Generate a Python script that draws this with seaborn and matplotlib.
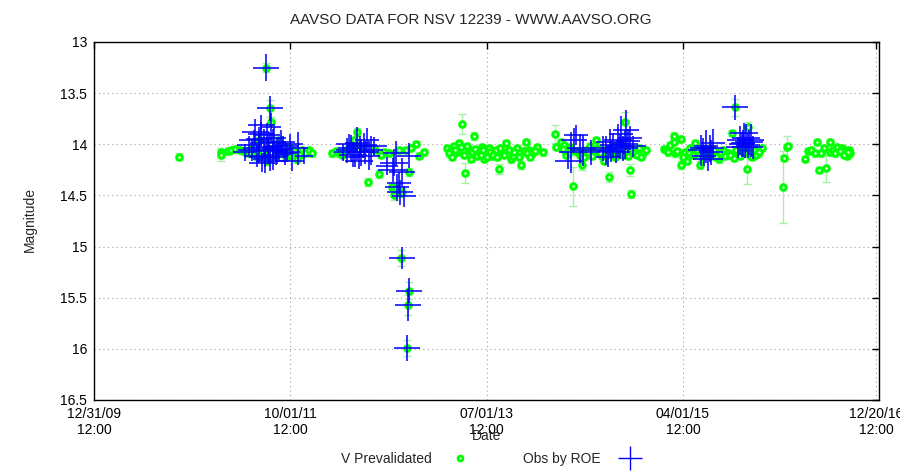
import numpy as np
import seaborn as sns
import matplotlib
matplotlib.use("Agg")
import matplotlib.pyplot as plt
import matplotlib.dates as mdates
import pandas as pd
from matplotlib.lines import Line2D

# V prevalidated observations: JD-2450000, magnitude, error
v_jd = [5472.7, 5608.9, 5611.2, 5631.7, 5643.7, 5654.4, 5670.6, 5683.6, 5696.5, 5719.2,
        5735.5, 5741.9, 5757.2, 5761.4, 5771.1, 5774.4, 5784.1, 5800.3, 5816.5, 5832.8,
        5839.3, 5858.7, 5874.9, 5884.7, 5897.6, 5907.4, 5972.2, 5994.9, 6017.7, 6043.6,
        6053.3, 6089.0, 6124.7, 6140.9, 6157.1, 6166.9, 6173.4, 6189.6, 6195.1, 6196.1,
        6199.3, 6212.3, 6214.6, 6219.7, 6222.0, 6223.0, 6228.5, 6244.7, 6254.4, 6270.7,
        6179.8,
        6345.3, 6358.2, 6368.0, 6377.7, 6384.2, 6390.7, 6394.9, 6403.7, 6416.6, 6423.1,
        6432.9, 6442.6, 6449.1, 6458.8, 6465.3, 6471.8, 6481.5, 6491.2, 6504.2, 6513.9,
        6526.9, 6536.6, 6546.4, 6552.9, 6559.4, 6572.3, 6585.3, 6595.0, 6601.5, 6611.3,
        6624.2, 6640.4, 6659.9, 6698.8, 6702.1,
        6718.3, 6728.0, 6737.8, 6747.5, 6757.2, 6773.4, 6786.4, 6799.4, 6812.4, 6825.3,
        6831.8, 6838.3, 6851.3, 6857.8, 6864.3, 6874.0, 6887.0, 6899.9, 6912.9, 6925.9,
        6935.6, 6942.1, 6945.4, 6958.3, 6971.3, 6984.3, 6994.0,
        7052.4, 7058.9, 7071.9, 7084.8, 7086.0, 7088.1, 7107.5, 7109.0, 7120.5, 7127.0,
        7136.7, 7152.9, 7169.2, 7185.4, 7201.6, 7214.6, 7230.8, 7243.8, 7260.0, 7273.0,
        7279.5, 7282.7, 7292.4, 7305.4, 7321.6, 7324.9, 7334.6, 7347.6, 7357.3, 7370.3,
        7438.4, 7441.6, 7451.4, 7454.6, 7509.8, 7519.5, 7529.2, 7542.2, 7548.7, 7555.2,
        7561.7, 7574.6, 7577.9, 7590.9, 7594.1, 7603.8, 7616.8, 7633.0, 7642.8, 7646.0,
        7649.3, 7655.7, 7659.0,
        5700.0, 5712.0, 5726.0, 5748.0, 5764.0, 5788.0, 5797.0, 5821.0, 5850.0, 5868.0,
        5985.0, 6003.0, 6027.0, 6070.0, 6110.0, 6130.0,
        6352.0, 6362.0, 6372.0, 6400.0, 6410.0, 6428.0, 6438.0, 6455.0, 6462.0, 6477.0,
        6486.0, 6497.0, 6508.0, 6520.0, 6532.0, 6565.0, 6580.0, 6605.0, 6617.0, 6632.0,
        6722.0, 6733.0, 6743.0, 6765.0, 6780.0, 6793.0, 6805.0, 6818.0, 6845.0, 6868.0,
        6880.0, 6893.0, 6906.0, 6918.0, 6930.0, 6950.0, 6965.0, 6978.0,
        7065.0, 7095.0, 7115.0, 7132.0, 7145.0, 7160.0, 7177.0, 7193.0, 7208.0, 7222.0,
        7236.0, 7250.0, 7266.0, 7287.0, 7300.0, 7312.0, 7330.0, 7340.0, 7352.0, 7362.0,
        7610.0, 7625.0, 7638.0, 7652.0]
v_mag = [14.12, 14.08, 14.10, 14.07, 14.06, 14.05, 14.06, 14.07, 14.08, 14.06,
         13.96, 14.11, 13.25, 14.16, 13.65, 13.78, 14.04, 13.96, 14.08, 14.03,
         14.11, 14.14, 14.06, 14.09, 14.06, 14.09, 14.09, 14.09, 14.06, 13.96,
         13.88, 14.37, 14.29, 14.08, 14.09, 14.42, 14.50, 14.06, 14.48, 15.11,
         14.47, 14.06, 15.99, 15.57, 14.27, 15.43, 14.04, 14.00, 14.11, 14.08,
         14.43,
         14.04, 14.06, 14.02, 14.08, 13.99, 14.03, 13.80, 14.28, 14.06, 14.14,
         13.92, 14.11, 14.06, 14.03, 14.14, 14.09, 14.04, 14.11, 14.06, 14.24,
         14.08, 13.99, 14.06, 14.14, 14.11, 14.04, 14.20, 14.07, 13.98, 14.06,
         14.09, 14.03, 14.08, 13.90, 14.03,
         13.98, 14.01, 14.06, 14.03, 14.41, 14.08, 14.20, 14.06, 14.02, 14.08,
         13.96, 14.04, 14.11, 14.16, 14.06, 14.32, 14.03, 14.08, 14.01, 13.78,
         14.11, 14.25, 14.49, 14.06, 14.04, 14.09, 14.06,
         14.05, 14.06, 14.01, 13.92, 13.98, 14.09, 13.95, 14.20, 14.08, 14.16,
         14.04, 13.99, 14.20, 14.08, 14.11, 14.06, 14.14, 14.06, 14.09, 13.89,
         14.13, 13.64, 14.08, 14.04, 14.24, 13.83, 14.11, 14.06, 14.09, 14.04,
         14.42, 14.13, 14.03, 14.02, 14.14, 14.07, 14.06, 14.09, 13.98, 14.25,
         14.09, 14.04, 14.23, 14.08, 13.98, 14.06, 14.03, 14.04, 14.06, 14.08,
         14.11, 14.06, 14.09,
         14.09, 14.04, 14.12, 14.08, 14.05, 14.10, 14.02, 14.12, 14.07, 14.10,
         14.07, 14.10, 14.05, 14.04, 14.06, 14.10,
         14.09, 14.12, 14.06, 14.10, 14.02, 14.08, 14.05, 14.10, 14.06, 14.12,
         14.08, 14.10, 14.12, 14.04, 14.10, 14.08, 14.12, 14.09, 14.12, 14.07,
         14.05, 14.10, 14.08, 14.07, 14.10, 14.12, 14.08, 14.11, 14.09, 14.10,
         14.08, 14.12, 14.06, 14.10, 14.07, 14.09, 14.10, 14.12,
         14.08, 14.07, 14.12, 14.09, 14.10, 14.06, 14.12, 14.05, 14.10, 14.12,
         14.08, 14.11, 14.10, 14.06, 14.11, 14.09, 14.08, 14.12, 14.10, 14.08,
         14.09, 14.07, 14.10, 14.08]
v_err = [0.03, 0.04, 0.06, 0.03, 0.03, 0.03, 0.03, 0.03, 0.03, 0.03,
         0.03, 0.03, 0.04, 0.04, 0.08, 0.05, 0.03, 0.04, 0.03, 0.03,
         0.03, 0.04, 0.03, 0.03, 0.03, 0.03, 0.03, 0.03, 0.03, 0.03,
         0.04, 0.04, 0.04, 0.03, 0.03, 0.03, 0.04, 0.03, 0.03, 0.08,
         0.04, 0.03, 0.08, 0.10, 0.04, 0.08, 0.03, 0.03, 0.03, 0.03,
         0.04,
         0.03, 0.03, 0.03, 0.03, 0.03, 0.03, 0.10, 0.10, 0.03, 0.03,
         0.04, 0.03, 0.03, 0.03, 0.03, 0.03, 0.03, 0.03, 0.03, 0.05,
         0.03, 0.03, 0.03, 0.04, 0.03, 0.03, 0.04, 0.03, 0.03, 0.03,
         0.03, 0.03, 0.03, 0.09, 0.03,
         0.03, 0.03, 0.03, 0.03, 0.19, 0.03, 0.05, 0.03, 0.03, 0.03,
         0.03, 0.03, 0.03, 0.03, 0.03, 0.05, 0.03, 0.03, 0.03, 0.10,
         0.03, 0.06, 0.04, 0.03, 0.03, 0.03, 0.03,
         0.03, 0.03, 0.03, 0.04, 0.03, 0.03, 0.03, 0.04, 0.03, 0.03,
         0.03, 0.03, 0.04, 0.03, 0.03, 0.03, 0.04, 0.03, 0.03, 0.03,
         0.03, 0.08, 0.03, 0.03, 0.15, 0.05, 0.03, 0.03, 0.03, 0.03,
         0.35, 0.03, 0.11, 0.03, 0.03, 0.03, 0.03, 0.03, 0.03, 0.03,
         0.03, 0.03, 0.14, 0.03, 0.03, 0.03, 0.03, 0.03, 0.03, 0.03,
         0.03, 0.03, 0.03,
         0.03, 0.03, 0.03, 0.03, 0.03, 0.03, 0.03, 0.03, 0.03, 0.03,
         0.03, 0.03, 0.03, 0.03, 0.03, 0.03,
         0.03, 0.03, 0.03, 0.03, 0.03, 0.03, 0.03, 0.03, 0.03, 0.03,
         0.03, 0.03, 0.03, 0.03, 0.03, 0.03, 0.03, 0.03, 0.03, 0.03,
         0.03, 0.03, 0.03, 0.03, 0.03, 0.03, 0.03, 0.03, 0.03, 0.03,
         0.03, 0.03, 0.03, 0.03, 0.03, 0.03, 0.03, 0.03,
         0.03, 0.03, 0.03, 0.03, 0.03, 0.03, 0.03, 0.03, 0.03, 0.03,
         0.03, 0.03, 0.03, 0.03, 0.03, 0.03, 0.03, 0.03, 0.03, 0.03,
         0.03, 0.03, 0.03, 0.03]

# observations by ROE: JD-2450000, magnitude, time error (days), magnitude error
r_jd = [5757.2, 5771.1, 5741.9, 5761.4, 5719.2, 5784.1, 5806.8, 5703.0, 5735.5, 5767.9,
        5793.8, 5826.3, 5729.0, 5754.9, 5780.9, 5687.0, 5842.5, 5745.0, 5813.3, 5862.0,
        5881.4, 5722.5, 5774.4,
        5710.0, 5733.0, 5750.0, 5764.0, 5778.0, 5790.0, 5800.0, 5818.0, 5835.0, 5752.0,
        5770.0, 5740.0,
        6020.9, 6033.9, 6053.3, 6066.3, 6076.0, 6085.8, 6098.7, 6046.8, 6007.9, 6108.5,
        6059.8, 6092.3, 6040.0, 6062.0, 6080.0, 6028.0,
        6179.8, 6173.4, 6170.0, 6199.3, 6189.6, 6183.0, 6192.0, 6205.8, 6150.6, 6222.0,
        6200.3, 6223.0, 6219.7, 6214.6,
        6750.7, 6760.5, 6779.9, 6789.7, 6815.6, 6741.0, 6767.0,
        6854.5, 6864.3, 6877.2, 6887.0, 6903.2, 6912.9, 6929.1, 6942.1, 6896.7, 6919.4,
        6870.7, 6951.8, 6880.0, 6908.0, 6925.0, 6935.0,
        7172.4, 7188.6, 7201.6, 7211.3, 7182.1, 7195.1, 7178.0, 7205.0,
        7282.7, 7298.9, 7308.6, 7318.4, 7324.9, 7334.6, 7311.9, 7292.4, 7341.1,
        7315.0, 7328.0, 7305.0]
r_mag = [13.25, 13.65, 13.81, 13.91, 13.96, 13.94, 13.98, 14.01, 14.04, 14.03,
         14.06, 14.08, 14.11, 14.14, 14.12, 14.08, 14.16, 14.18, 14.02, 14.04,
         14.11, 13.88, 13.83,
         14.06, 13.95, 13.99, 14.07, 13.98, 14.10, 14.05, 14.09, 14.00, 14.12,
         14.16, 13.90,
         14.06, 14.04, 13.99, 14.08, 14.01, 13.96, 14.06, 14.12, 14.08, 14.02,
         14.16, 14.11, 14.10, 14.02, 14.08, 14.00,
         14.09, 14.18, 14.25, 14.27, 14.38, 14.42, 14.47, 14.51, 14.21, 14.11,
         15.11, 15.43, 15.57, 15.99,
         14.08, 13.96, 14.04, 14.06, 14.08, 14.16, 13.91,
         14.04, 14.06, 13.98, 14.01, 13.96, 13.90, 13.86, 13.94, 14.08, 14.04,
         14.12, 14.02, 14.07, 14.02, 14.00, 13.97,
         14.06, 14.02, 14.04, 13.99, 14.11, 14.14, 14.04, 14.08,
         13.64, 13.96, 13.99, 13.94, 14.01, 13.96, 13.89, 14.03, 14.03,
         14.03, 13.98, 14.00]
r_terr = [42, 42, 45, 42, 49, 39, 45, 42, 52, 45,
          39, 42, 45, 39, 49, 36, 39, 42, 52, 32,
          29, 45, 32,
          45, 42, 45, 49, 45, 42, 45, 39, 42, 52,
          45, 42,
          36, 42, 39, 45, 42, 39, 39, 32, 29, 42,
          45, 36, 45, 42, 45, 42,
          42, 45, 49, 42, 39, 39, 42, 39, 36, 39,
          42, 42, 42, 42,
          39, 42, 45, 39, 32, 45, 39,
          42, 39, 45, 42, 45, 39, 42, 39, 45, 49,
          39, 42, 42, 45, 42, 39,
          42, 39, 45, 39, 39, 49, 42, 39,
          42, 42, 39, 45, 39, 42, 45, 39, 32,
          42, 45, 42]
r_merr = [0.13, 0.12, 0.10, 0.12, 0.10, 0.11, 0.12, 0.09, 0.14, 0.15,
          0.13, 0.09, 0.11, 0.14, 0.13, 0.08, 0.10, 0.09, 0.10, 0.16,
          0.08, 0.13, 0.14,
          0.10, 0.12, 0.14, 0.12, 0.13, 0.10, 0.12, 0.11, 0.10, 0.10,
          0.10, 0.12,
          0.12, 0.13, 0.16, 0.13, 0.12, 0.12, 0.14, 0.10, 0.08, 0.09,
          0.08, 0.14, 0.12, 0.10, 0.11, 0.10,
          0.12, 0.13, 0.12, 0.14, 0.11, 0.13, 0.12, 0.10, 0.09, 0.12,
          0.11, 0.12, 0.16, 0.13,
          0.20, 0.12, 0.14, 0.15, 0.12, 0.08, 0.10,
          0.12, 0.14, 0.13, 0.12, 0.16, 0.18, 0.20, 0.12, 0.10, 0.12,
          0.10, 0.10, 0.10, 0.12, 0.14, 0.12,
          0.15, 0.16, 0.13, 0.14, 0.10, 0.12, 0.10, 0.12,
          0.12, 0.14, 0.13, 0.14, 0.12, 0.16, 0.10, 0.10, 0.11,
          0.10, 0.12, 0.12]

tick_dates = ['2009-12-31 12:00', '2011-10-01 12:00', '2013-07-01 12:00',
              '2015-04-01 12:00', '2016-12-20 12:00']
mag_ticks = [13, 13.5, 14, 14.5, 15, 15.5, 16, 16.5]


def jd_to_num(jd):
    # JD-2450000 -> matplotlib date number
    return np.asarray(jd, dtype=float) + 2450000 - 2440587.5


v = pd.DataFrame({'date': jd_to_num(v_jd), 'mag': v_mag, 'err': v_err})
roe = pd.DataFrame({'date': jd_to_num(r_jd), 'mag': r_mag, 'terr': r_terr, 'merr': r_merr})

sns.set_style("white")
plt.rcParams['font.family'] = ['Liberation Sans', 'DejaVu Sans']

fig = plt.figure(figsize=(9, 4.73), dpi=100)
ax = fig.add_axes([94/900, 1 - 400/473, (879 - 94)/900, (400 - 42)/473])

green = '#00ff00'
blue = '#0000ff'

ax.errorbar(v['date'], v['mag'], yerr=v['err'], fmt='none', ecolor='#a8f0a8',
            elinewidth=1, capsize=3, capthick=1, zorder=2)
sns.scatterplot(data=v, x='date', y='mag', marker='o', s=16, facecolor='white',
                edgecolor=green, linewidth=2.2, ax=ax, zorder=3, legend=False)
ax.errorbar(roe['date'], roe['mag'], xerr=roe['terr'], yerr=roe['merr'], fmt='none',
            ecolor=blue, elinewidth=1.4, capsize=0, alpha=0.8, zorder=4)

ticks = mdates.date2num(pd.to_datetime(tick_dates))
ax.set_xticks(ticks)
ax.xaxis.set_major_formatter(mdates.DateFormatter('%m/%d/%y\n%H:%M'))
ax.set_xlim(ticks[0], ticks[-1] + 9)
ax.set_yticks(mag_ticks)
ax.set_yticklabels([f'{t:g}' for t in mag_ticks])
ax.set_ylim(16.5, 13)

ax.grid(True, color='#a0a0a0', linestyle=(0, (1, 3)), linewidth=0.8)
ax.tick_params(direction='in', length=5, width=1, top=True, right=True,
               labelsize=10, pad=5, colors='black')
for sp in ax.spines.values():
    sp.set_color('black')
    sp.set_linewidth(1)
ax.set_xlabel('')
ax.set_ylabel('')

fig.text(471/900, 1 - 20/473, 'AAVSO DATA FOR NSV 12239 - WWW.AAVSO.ORG',
         ha='center', va='center', fontsize=11)
fig.text(30/900, 1 - 220/473, 'Magnitude', rotation=90, ha='center', va='center',
         fontsize=10)
fig.text(487/900, 1 - 436/473, 'Date', ha='center', va='center', fontsize=10)

handles = [
    Line2D([], [], linestyle='none', marker='o', markersize=3.5, markerfacecolor='white',
           markeredgecolor=green, markeredgewidth=2),
    Line2D([], [], linestyle='none', marker='+', markersize=17, color=blue,
           markeredgewidth=1),
]
fig.legend(handles, ['V Prevalidated', 'Obs by ROE'], loc='center',
           bbox_to_anchor=(493.5/900, 1 - 459/473), ncol=2, markerfirst=False,
           frameon=False, fontsize=10, handlelength=2.4, handletextpad=0.9,
           columnspacing=3.3)

fig.savefig('out.png', dpi=100)
